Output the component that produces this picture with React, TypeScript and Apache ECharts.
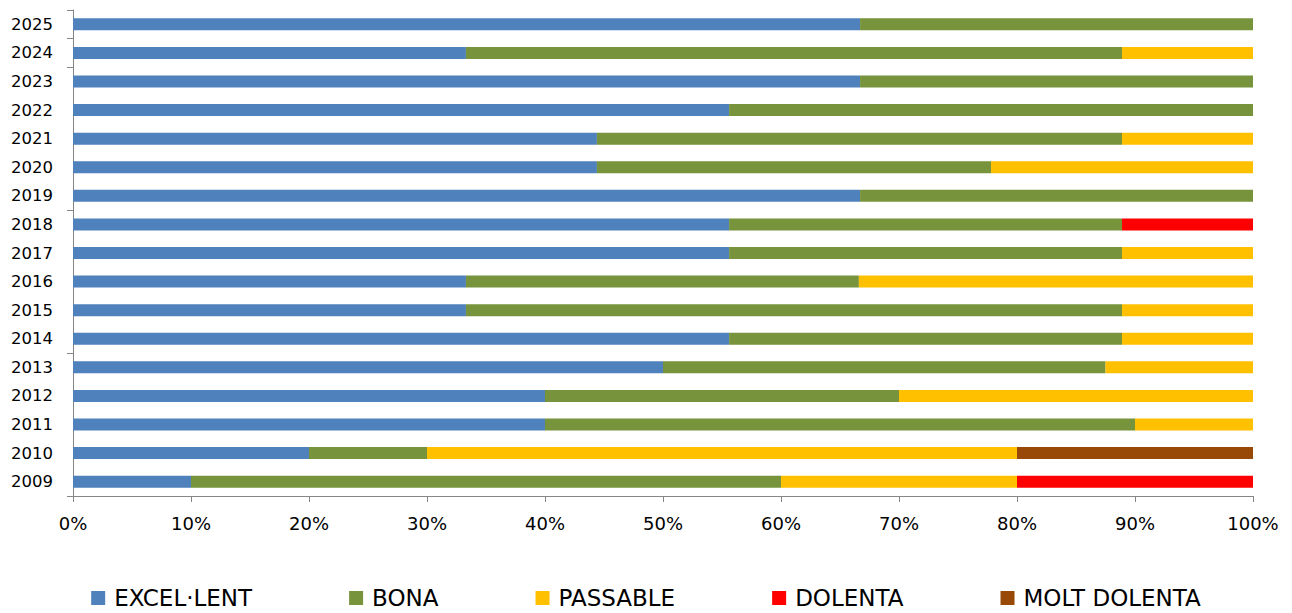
import React, { useEffect, useRef } from "react";
import * as echarts from "echarts";

const years = ["2009","2010","2011","2012","2013","2014","2015","2016","2017","2018","2019","2020","2021","2022","2023","2024","2025"];
const excellent = [10, 20, 40, 40, 50, 55.6, 33.3, 33.3, 55.6, 55.6, 66.7, 44.4, 44.4, 55.6, 66.7, 33.3, 66.7];
const bona = [50, 10, 50, 30, 37.5, 33.3, 55.6, 33.3, 33.3, 33.3, 33.3, 33.4, 44.5, 44.4, 33.3, 55.6, 33.3];
const passable = [20, 50, 10, 30, 12.5, 11.1, 11.1, 33.4, 11.1, 0, 0, 22.2, 11.1, 0, 0, 11.1, 0];
const dolenta = [20, 0, 0, 0, 0, 0, 0, 0, 0, 11.1, 0, 0, 0, 0, 0, 0, 0];
const moltDolenta = [0, 20, 0, 0, 0, 0, 0, 0, 0, 0, 0, 0, 0, 0, 0, 0, 0];

const seriesNames = ["EXCEL·LENT", "BONA", "PASSABLE", "DOLENTA", "MOLT DOLENTA"];
const seriesColors = ["#4F81BD", "#77933C", "#FFC000", "#FF0000", "#984807"];
const seriesData = [excellent, bona, passable, dolenta, moltDolenta];

const FONT = "DejaVu Sans";

export default function App() {
  const ref = useRef<HTMLDivElement>(null);
  useEffect(() => {
    if (!ref.current) return;
    const chart = echarts.init(ref.current, undefined, { renderer: "svg" });
    chart.setOption({
      animation: false,
      grid: { left: 73, right: 39, top: 10, bottom: 117, containLabel: false },
      legend: {
        top: 586,
        left: "center",
        padding: 0,
        itemWidth: 14,
        itemHeight: 14,
        itemGap: 97,
        icon: "rect",
        textStyle: { fontFamily: FONT, fontSize: 23, color: "#000", padding: [0, 0, 0, 4], lineHeight: 24 },
        data: seriesNames,
      },
      xAxis: {
        type: "value",
        min: 0,
        max: 100,
        interval: 10,
        axisLine: { show: true, lineStyle: { color: "#868686", width: 1 } },
        axisTick: { show: true, length: 6, lineStyle: { color: "#868686" } },
        splitLine: { show: false },
        axisLabel: { formatter: "{value}%", fontFamily: FONT, fontSize: 18, color: "#000", margin: 18 },
      },
      yAxis: {
        type: "category",
        data: years,
        axisLine: { show: true, lineStyle: { color: "#868686", width: 1 } },
        axisTick: { show: true, length: 6, interval: 4, lineStyle: { color: "#868686" } },
        axisLabel: { fontFamily: FONT, fontSize: 16.5, color: "#000", margin: 20, interval: 0 },
      },
      series: seriesNames.map((name, i) => ({
        name,
        type: "bar",
        stack: "total",
        barWidth: 12,
        itemStyle: { color: seriesColors[i] },
        data: seriesData[i],
      })),
    });
    return () => chart.dispose();
  }, []);
  return (
    <div
      ref={ref}
      style={{ position: "fixed", left: 0, top: 0, width: 1292, height: 613, background: "#fff" }}
    />
  );
}
